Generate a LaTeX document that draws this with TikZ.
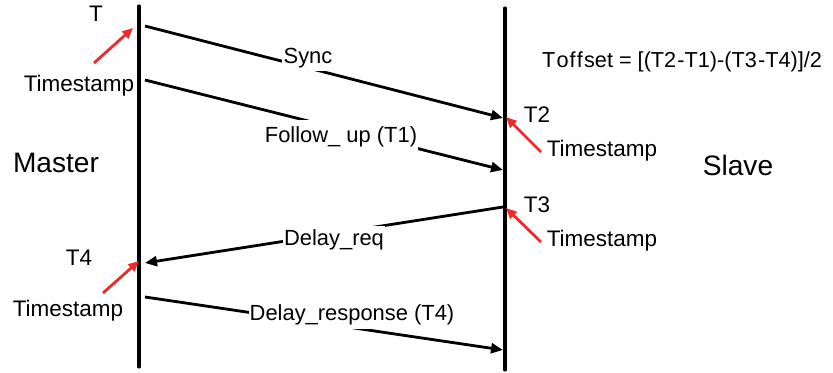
\documentclass[tikz,border=0pt]{standalone}
\usepackage{fontspec}
\setmainfont{Liberation Sans}
\usetikzlibrary{arrows.meta}
\definecolor{tsred}{HTML}{EE2A2A}
\tikzset{
  lifeline/.style={draw=black,line width=2.6pt,line cap=round},
  msg/.style={draw=black,line width=2.4pt,-{Triangle[length=3.6mm,width=3mm]}},
  tsarrow/.style={draw=tsred,line width=2.4pt,-{Triangle[length=3.2mm,width=2.8mm]}},
  msglabel/.style={font=\fontsize{18.7}{21}\selectfont,fill=white,inner xsep=1pt,inner ysep=3pt},
  tslabel/.style={font=\fontsize{19.2}{22}\selectfont,inner sep=0pt},
  side/.style={font=\fontsize{24}{27}\selectfont}
}
\begin{document}
\begin{tikzpicture}[x=0.03cm,y=-0.03cm]
\path[use as bounding box] (0,0) rectangle (833,373);
% lifelines
\coordinate (mtop) at (139,6);
\coordinate (mbot) at (139,367);
\coordinate (stop) at (505,8);
\coordinate (sbot) at (505,370);
\draw[lifeline] (mtop) -- (mbot);
\draw[lifeline] (stop) -- (sbot);
\node[side] (master) at (56,163) {Master};
\node[side] (slave) at (738,165) {Slave};
\node[font=\fontsize{18.5}{21}\selectfont] (offset) at (682,62) {T\kern1pt o\kern1pt f\kern1pt f\kern1pt set = [(T2\kern1pt -T1)-(T3\kern1pt -T4)]/2};
% messages
\coordinate (sync0) at (145,26);
\coordinate (sync1) at (503,118);
\coordinate (fup0) at (145,80);
\coordinate (fup1) at (503,170);
\coordinate (dreq0) at (503,207);
\coordinate (dreq1) at (145,263);
\coordinate (dresp0) at (145,297);
\coordinate (dresp1) at (503,350);
\draw[msg] (sync0) -- (sync1);
\draw[msg] (fup0) -- (fup1);
\draw[msg] (dreq0) -- (dreq1);
\draw[msg] (dresp0) -- (dresp1);
\node[msglabel] (synclbl) at (308,58) {Sync};
\node[msglabel,inner ysep=6pt] (fuplbl) at (341,137) {Follow\_ up (T1)};
\node[msglabel] (dreqlbl) at (334,240) {Delay\_req};
\node[msglabel] (dresplbl) at (352,315) {Delay\_response (T4)};
% timestamps
\node[tslabel] (t1) at (96,14) {T};
\node[tslabel] (ts1) at (79,86) {Timestamp};
\coordinate (ts1a) at (94,63);
\coordinate (ts1b) at (133,28);
\draw[tsarrow] (ts1a) -- (ts1b);
\node[tslabel] (t2) at (537,115) {T2};
\node[tslabel] (ts2) at (602,151) {Timestamp};
\coordinate (ts2a) at (541,152);
\coordinate (ts2b) at (506,117);
\draw[tsarrow] (ts2a) -- (ts2b);
\node[tslabel] (t3) at (537,205) {T3};
\node[tslabel] (ts3) at (602,241) {Timestamp};
\coordinate (ts3a) at (541,242);
\coordinate (ts3b) at (506,208);
\draw[tsarrow] (ts3a) -- (ts3b);
\node[tslabel] (t4) at (79,258) {T4};
\node[tslabel] (ts4) at (68,311) {Timestamp};
\coordinate (ts4a) at (103,293);
\coordinate (ts4b) at (139,261);
\draw[tsarrow] (ts4a) -- (ts4b);
\end{tikzpicture}
\end{document}
